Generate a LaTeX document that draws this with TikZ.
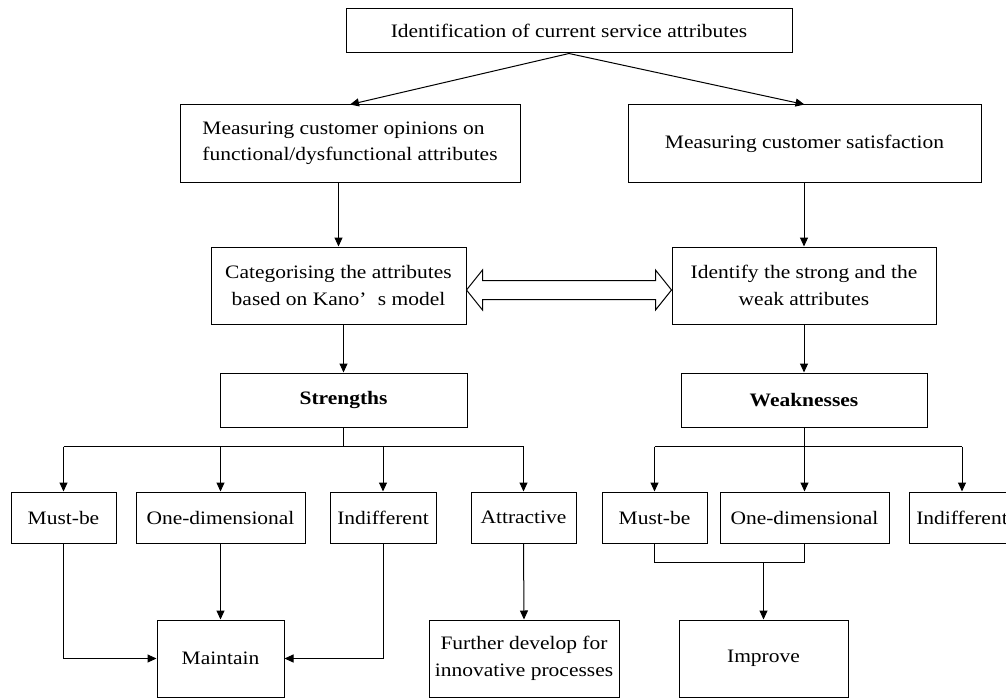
\documentclass[tikz,border=0pt]{standalone}
\usepackage{fontspec}
\setmainfont{Liberation Serif}[FakeStretch=1.13]
\usetikzlibrary{arrows.meta}
\begin{document}
\begin{tikzpicture}[x=1pt,y=-1pt,
  box/.style={draw=black,line width=1pt,inner sep=0pt,align=center,
    font=\fontsize{19}{26.5}\selectfont},
  arr/.style={line width=1pt,-{Triangle[length=9pt,width=8pt]}},
  ln/.style={line width=1pt}]
\useasboundingbox (0,0) rectangle (1006,698);
\clip (0,0) rectangle (1006,698);

% first stage
\node[box,minimum width=446pt,minimum height=44pt] (top) at (569,31)
  {Identification of current service attributes};
\node[box,minimum width=340pt,minimum height=77pt,align=left] (mco) at (350,143.5)
  {Measuring customer opinions on\\functional/dysfunctional attributes};
\node[box,minimum width=353pt,minimum height=77pt] (mcs) at (804.5,143.5)
  {Measuring customer satisfaction};
\node[box,minimum width=255pt,minimum height=77pt] (cat) at (338.5,285.5)
  {Categorising the attributes\\based on Kano’\hspace{0.6em}s model};
\node[box,minimum width=264pt,minimum height=77pt] (idf) at (804,285.5)
  {Identify the strong and the\\weak attributes};
\node[box,minimum width=247pt,minimum height=54pt] (str) at (343.5,400)
  {\textbf{Strengths}};
\node[box,minimum width=246pt,minimum height=54pt] (wea) at (804,400)
  {\textbf{Weaknesses}};

% categories
\node[box,minimum width=105pt,minimum height=51pt] (mb1) at (63.5,517.5) {Must-be};
\node[box,minimum width=169pt,minimum height=51pt] (od1) at (220.5,517.5) {One-dimensional};
\node[box,minimum width=106pt,minimum height=51pt] (in1) at (383,517.5) {Indifferent};
\node[box,minimum width=105pt,minimum height=51pt] (at1) at (523.5,517.5) {Attractive};
\node[box,minimum width=105pt,minimum height=51pt] (mb2) at (654.5,517.5) {Must-be};
\node[box,minimum width=169pt,minimum height=51pt] (od2) at (804.5,517.5) {One-dimensional};
\node[box,minimum width=106pt,minimum height=51pt] (in2) at (962,517.5) {Indifferent};

% actions
\node[box,minimum width=127pt,minimum height=77pt] (mnt) at (220.5,658.5) {Maintain};
\node[box,minimum width=190pt,minimum height=77pt] (fur) at (524,658.5)
  {Further develop for\\innovative processes};
\node[box,minimum width=169pt,minimum height=77pt] (imp) at (763.5,658.5) {Improve};

% connectors, upper part
\draw[arr] (top.south) -- (mco.north);
\draw[arr] (top.south) -- (mcs.north);
\draw[arr] (mco.south -| cat.north) -- (cat.north);
\draw[arr] (mcs.south -| idf.north) -- (idf.north);
\draw[arr] (cat.south -| str.north) -- (str.north);
\draw[arr] (idf.south) -- (wea.north);

% hollow two-headed arrow between the two middle boxes
\coordinate (dl) at ([yshift=-4.5pt]cat.east);
\coordinate (dr) at ([yshift=-4.5pt]idf.west);
\draw[ln,fill=white] (dl) -- ++(16,-20) -- ++(0,10.5)
  -- ([shift={(-16,-9.5)}]dr) -- ++(0,-10.5) -- (dr) -- ++(-16,20) -- ++(0,-10.5)
  -- ([shift={(16,9.5)}]dl) -- ++(0,10.5) -- cycle;

% strengths branches
\coordinate (sb) at ([yshift=-19pt]str.south);
\draw[ln] (str.south) -- (sb);
\draw[ln] (sb -| mb1.north) -- (sb -| at1.north);
\foreach \n in {mb1,od1,in1,at1} \draw[arr] (sb -| \n.north) -- (\n.north);

% weaknesses branches
\coordinate (wb) at ([yshift=-19pt]wea.south);
\draw[ln] (wea.south) -- (wb);
\draw[ln] (wb -| mb2.north) -- (wb -| in2.north);
\foreach \n in {mb2,od2,in2} \draw[arr] (wb -| \n.north) -- (\n.north);

% lower part
\draw[arr] (mb1.south) |- (mnt.west);
\draw[arr] (od1.south) -- (mnt.north);
\draw[arr] (in1.south) |- (mnt.east);
\draw[arr] (at1.south) -- (fur.north);
\coordinate (jn) at ([yshift=-19pt]mb2.south);
\draw[ln] (mb2.south) -- (jn) -- (jn -| od2.south) -- (od2.south);
\draw[arr] (jn -| imp.north) -- (imp.north);
\end{tikzpicture}
\end{document}
